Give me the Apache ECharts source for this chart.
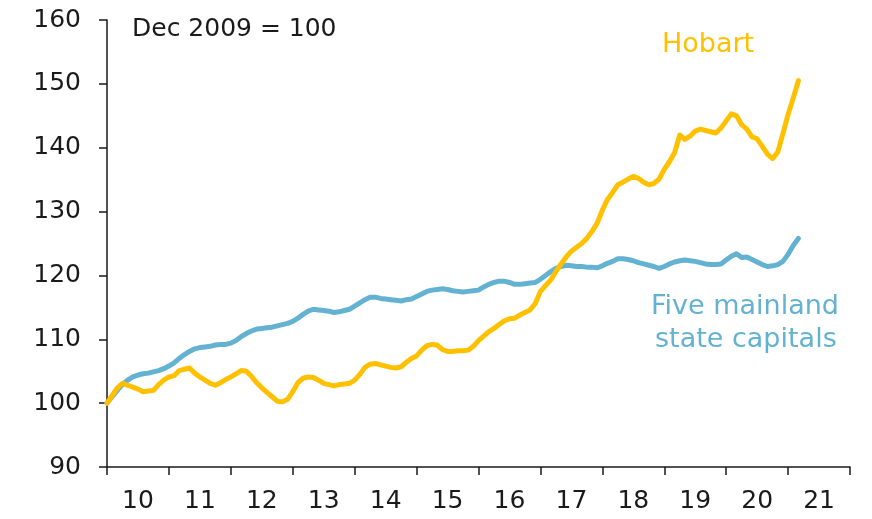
<!DOCTYPE html>
<html>
<head>
<meta charset="utf-8">
<script src="https://cdn.jsdelivr.net/npm/echarts@6/dist/echarts.min.js"></script>
<style>
  html, body { margin: 0; padding: 0; background: #fff; }
  #chart { width: 872px; height: 519px; }
</style>
</head>
<body>
<div id="chart"></div>
<script>
// year labels, each centred between two year ticks
const years = ['10', '11', '12', '13', '14', '15', '16', '17', '18', '19', '20', '21']

// monthly index, Dec 2009 = 100 (Dec 2009 .. Feb 2021)
const hobart = [
  100.0, 101.2, 102.4, 103.1, 102.8, 102.5, 102.2, 101.8, 101.9, 102.0, 102.9, 103.6,
  104.1, 104.3, 105.1, 105.3, 105.5, 104.7, 104.1, 103.6, 103.1, 102.8, 103.2, 103.7,
  104.1, 104.6, 105.1, 105.0, 104.2, 103.2, 102.4, 101.7, 101.0, 100.3, 100.2, 100.6,
  101.8, 103.2, 103.9, 104.1, 104.0, 103.6, 103.1, 102.9, 102.7, 102.9, 103.0, 103.1,
  103.6, 104.5, 105.6, 106.1, 106.2, 106.0, 105.8, 105.6, 105.5, 105.7, 106.4, 107.0,
  107.4, 108.3, 109.0, 109.2, 109.1, 108.4, 108.1, 108.1, 108.2, 108.2, 108.3, 108.9,
  109.8, 110.5, 111.2, 111.7, 112.3, 112.9, 113.2, 113.3, 113.8, 114.2, 114.6, 115.6,
  117.5, 118.4, 119.3, 120.6, 121.8, 122.9, 123.8, 124.4, 125.0, 125.8, 126.9, 128.2,
  130.2, 131.9, 133.0, 134.2, 134.6, 135.1, 135.5, 135.2, 134.6, 134.2, 134.4, 135.1,
  136.6, 137.8, 139.2, 142.0, 141.3, 141.8, 142.6, 142.9, 142.7, 142.5, 142.3, 143.1,
  144.2, 145.3, 145.0, 143.6, 142.9, 141.7, 141.4, 140.2, 139.0, 138.3, 139.3, 142.2,
  145.2, 147.8, 150.5
]

const mainland = [
  100.0, 101.0, 102.0, 102.9, 103.6, 104.1, 104.4, 104.6, 104.7, 104.9, 105.1, 105.4,
  105.8, 106.3, 107.0, 107.6, 108.1, 108.5, 108.7, 108.8, 108.9, 109.1, 109.2, 109.2,
  109.4, 109.8, 110.4, 110.9, 111.3, 111.6, 111.7, 111.8, 111.9, 112.1, 112.3, 112.5,
  112.8, 113.3, 113.9, 114.4, 114.7, 114.6, 114.5, 114.4, 114.2, 114.3, 114.5, 114.7,
  115.2, 115.7, 116.2, 116.6, 116.6, 116.4, 116.3, 116.2, 116.1, 116.0, 116.2, 116.3,
  116.7, 117.1, 117.5, 117.7, 117.8, 117.9, 117.8, 117.6, 117.5, 117.4, 117.5, 117.6,
  117.7, 118.2, 118.6, 118.9, 119.1, 119.1, 118.9, 118.6, 118.6, 118.7, 118.8, 118.9,
  119.4, 120.0, 120.6, 121.1, 121.4, 121.6, 121.5, 121.4, 121.4, 121.3, 121.3, 121.2,
  121.5, 121.9, 122.2, 122.6, 122.6, 122.5, 122.3, 122.0, 121.8, 121.6, 121.4, 121.1,
  121.4, 121.8, 122.1, 122.3, 122.4, 122.3, 122.2, 122.0, 121.8, 121.7, 121.7, 121.8,
  122.4, 123.0, 123.4, 122.8, 122.9, 122.5, 122.1, 121.7, 121.4, 121.5, 121.7, 122.2,
  123.3, 124.7, 125.8
]

const YELLOW = '#FFC000'
const BLUE = '#63B2D1'
const INK = '#1a1a1a'
const FONT = 'DejaVu Sans'

const toPoints = arr => arr.map((v, i) => [i, v])

const chart = echarts.init(document.getElementById('chart'))

chart.setOption({
  animation: false,
  backgroundColor: '#fff',
  grid: { left: 107, right: 22, top: 20, bottom: 52, containLabel: false },
  xAxis: [
    {
      type: 'category',
      data: years,
      boundaryGap: true,
      axisLine: { lineStyle: { color: INK, width: 1.5 } },
      axisTick: { show: true, length: 8, lineStyle: { color: INK, width: 1.5 } },
      axisLabel: { color: INK, fontFamily: FONT, fontSize: 25, margin: 22 },
      splitLine: { show: false }
    },
    {
      type: 'value',
      min: 0,
      max: 144,
      show: false
    }
  ],
  yAxis: {
    type: 'value',
    min: 90,
    max: 160,
    interval: 10,
    axisLine: { show: true, lineStyle: { color: INK, width: 1.5 } },
    axisTick: { show: true, length: 8, lineStyle: { color: INK, width: 1.5 } },
    axisLabel: { color: INK, fontFamily: FONT, fontSize: 25, margin: 26 },
    splitLine: { show: false }
  },
  series: [
    {
      name: 'Five mainland state capitals',
      type: 'line',
      xAxisIndex: 1,
      data: toPoints(mainland),
      showSymbol: false,
      lineStyle: { color: BLUE, width: 5, join: 'round', cap: 'round' },
      z: 2
    },
    {
      name: 'Hobart',
      type: 'line',
      xAxisIndex: 1,
      data: toPoints(hobart),
      showSymbol: false,
      lineStyle: { color: YELLOW, width: 5, join: 'round', cap: 'round' },
      z: 3
    }
  ],
  graphic: [
    {
      type: 'text', left: 132, top: 17,
      style: { text: 'Dec 2009 = 100', fill: INK, font: '25px "DejaVu Sans"' }
    },
    {
      type: 'text', left: 662, top: 31,
      style: { text: 'Hobart', fill: YELLOW, font: '27px "DejaVu Sans"' }
    },
    {
      type: 'text', left: 651, top: 293,
      style: { text: 'Five mainland', fill: BLUE, font: '27px "DejaVu Sans"' }
    },
    {
      type: 'text', left: 655, top: 326,
      style: { text: 'state capitals', fill: BLUE, font: '27px "DejaVu Sans"' }
    }
  ]
})
</script>
</body>
</html>
